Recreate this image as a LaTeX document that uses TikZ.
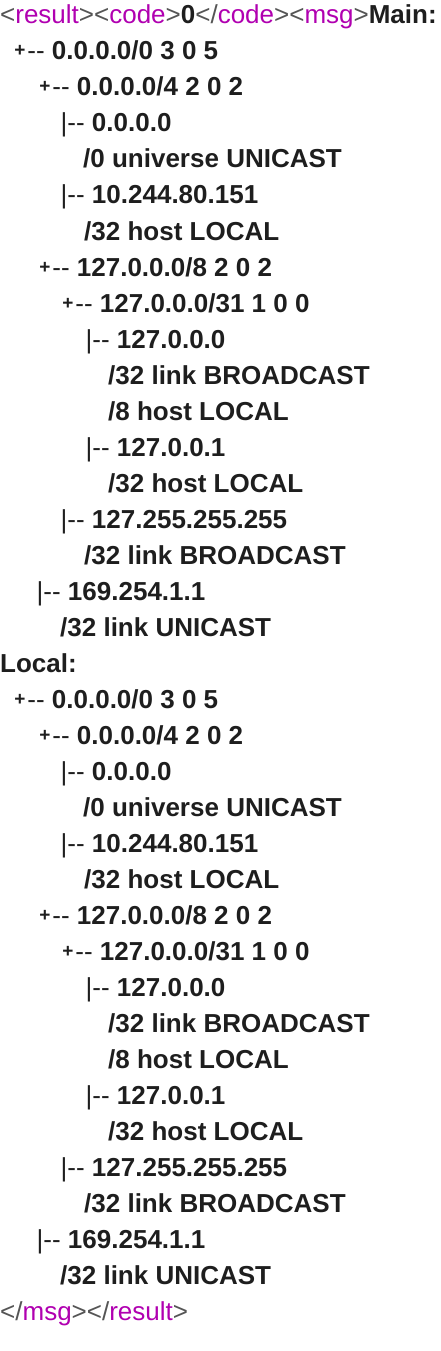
\documentclass[tikz,border=0pt]{standalone}
\usepackage{fontspec}
\setmainfont{Liberation Sans}

\definecolor{tagpurple}{RGB}{176,0,176}
\definecolor{tagsign}{RGB}{85,85,85}
\definecolor{treeink}{RGB}{30,30,30}

\newcommand{\xmlopen}[1]{\textcolor{tagsign}{<}\textcolor{tagpurple}{#1}\textcolor{tagsign}{>}}
\newcommand{\xmlclose}[1]{\textcolor{tagsign}{</}\textcolor{tagpurple}{#1}\textcolor{tagsign}{>}}
\newcommand{\tplus}{{\makebox[15.2pt][c]{\raisebox{3pt}{\fontsize{19}{19}\selectfont\bfseries +}}\mdseries -{}-} }
\newcommand{\tbar}{{\mdseries |-{}-} }

\tikzset{
    tagline/.style={anchor=base west, inner sep=0pt, font=\fontsize{26}{36}\selectfont},
    treeline/.style={anchor=base west, inner sep=0pt, font=\fontsize{26}{36}\selectfont\bfseries, text=treeink}
}

\begin{document}
\begin{tikzpicture}[x=1pt, y=-1pt]
        \useasboundingbox (0, 0) rectangle (440, 1351);

        \node[tagline] (head) at (0, 24) {\xmlopen{result}\xmlopen{code}\textcolor{treeink}{\bfseries 0}\xmlclose{code}\xmlopen{msg}\textcolor{treeink}{\bfseries Main:}};

        % the same table twice, main and local
        \foreach \blk/\off in {m/0, l/648} {
            \node[treeline] (\blk1) at (12, 60 + \off) {\tplus 0.0.0.0/0 3 0 5};
            \node[treeline] (\blk2) at (37, 96 + \off) {\tplus 0.0.0.0/4 2 0 2};
            \node[treeline] (\blk3) at (60.5, 132 + \off) {\tbar 0.0.0.0};
            \node[treeline] (\blk4) at (83, 168 + \off) {/0 universe UNICAST};
            \node[treeline] (\blk5) at (60.5, 204 + \off) {\tbar 10.244.80.151};
            \node[treeline] (\blk6) at (84, 240 + \off) {/32 host LOCAL};
            \node[treeline] (\blk7) at (37, 276 + \off) {\tplus 127.0.0.0/8 2 0 2};
            \node[treeline] (\blk8) at (60, 312 + \off) {\tplus 127.0.0.0/31 1 0 0};
            \node[treeline] (\blk9) at (85.5, 348 + \off) {\tbar 127.0.0.0};
            \node[treeline] (\blk10) at (108, 384 + \off) {/32 link BROADCAST};
            \node[treeline] (\blk11) at (108, 420 + \off) {/8 host LOCAL};
            \node[treeline] (\blk12) at (85.5, 456 + \off) {\tbar 127.0.0.1};
            \node[treeline] (\blk13) at (108, 492 + \off) {/32 host LOCAL};
            \node[treeline] (\blk14) at (60.5, 528 + \off) {\tbar 127.255.255.255};
            \node[treeline] (\blk15) at (84, 564 + \off) {/32 link BROADCAST};
            \node[treeline] (\blk16) at (36.5, 600 + \off) {\tbar 169.254.1.1};
            \node[treeline] (\blk17) at (60, 636 + \off) {/32 link UNICAST};
        }

        \node[treeline] (local) at (0, 672) {Local:};

        \node[tagline] (tail) at (0, 1320) {\xmlclose{msg}\xmlclose{result}};

    \end{tikzpicture}
\end{document}
